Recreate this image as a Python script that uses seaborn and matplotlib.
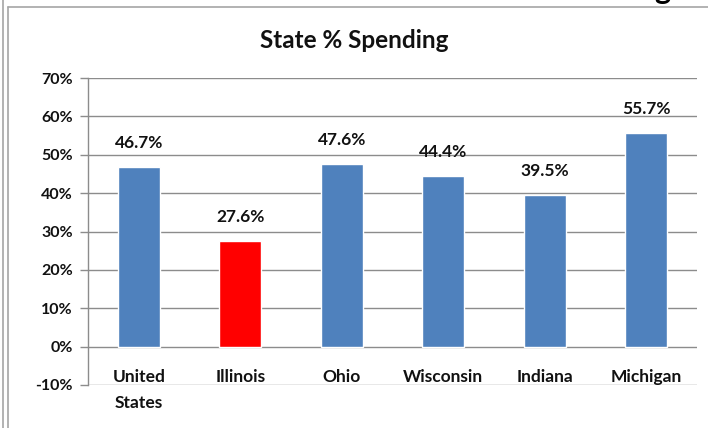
import matplotlib
matplotlib.use("Agg")
import matplotlib.pyplot as plt
from matplotlib.lines import Line2D
import seaborn as sns
import pandas as pd

# Share of spending carried by the state, by state (%)
states = ["United\nStates", "Illinois", "Ohio", "Wisconsin", "Indiana", "Michigan"]
spending_pct = [46.7, 27.6, 47.6, 44.4, 39.5, 55.7]
bar_colors = ["#4F81BD", "#FF0000", "#4F81BD", "#4F81BD", "#4F81BD", "#4F81BD"]
y_ticks = [-10, 0, 10, 20, 30, 40, 50, 60, 70]

sns.set_theme(style="white")
plt.rcParams["font.family"] = ["Lato", "DejaVu Sans"]

W, H = 708, 428
fig = plt.figure(figsize=(W / 100, H / 100), dpi=100)
fig.patch.set_facecolor("white")

# axes box in pixel coordinates: x 88..697, y 78..385 from top
ax = fig.add_axes([88 / W, (H - 385) / H, (697 - 88) / W, (385 - 78) / H])

df = pd.DataFrame({"state": states, "pct": spending_pct})
sns.barplot(data=df, x="state", y="pct", hue="state", palette=bar_colors,
            legend=False, width=0.41, saturation=1, ax=ax, zorder=3)

ax.set_ylim(-10, 70)
ax.set_xlim(-0.5, len(states) - 0.5)
ax.set_yticks(y_ticks)
ax.set_yticklabels([f"{t}%" for t in y_ticks], fontsize=11.5, fontweight="bold",
                   color="#111111")
ax.set_xticks([])
ax.set_xlabel("")
ax.set_ylabel("")

grid_c = "#8C8C8C"
for t in y_ticks:
    ax.axhline(t, color=grid_c, lw=1, zorder=1)
# tick stubs to the left of the value axis
ax.tick_params(axis="y", which="both", left=True, length=6, width=1,
               color=grid_c, pad=5)
for s in ["top", "right", "bottom"]:
    ax.spines[s].set_visible(False)
ax.spines["left"].set_color(grid_c)
ax.spines["left"].set_linewidth(1)

# value labels above each bar
for i, v in enumerate(spending_pct):
    ax.annotate(f"{v}%", (i, v), xytext=(0, 11.5), textcoords="offset points",
                ha="center", va="bottom", fontsize=12.5, fontweight="bold",
                color="#111111")

# category names sit between 0% and -10%; a second line drops below
for i, name in enumerate(states):
    parts = name.split("\n")
    ax.text(i, -9.9, parts[0], ha="center", va="bottom", fontsize=12.5,
            fontweight="bold", color="#111111")
    if len(parts) > 1:
        ax.text(i, -16.9, parts[1], ha="center", va="bottom", fontsize=12.5,
                fontweight="bold", color="#111111", clip_on=False)

fig.text(0.5, 1 - 40 / H, "State % Spending", ha="center", va="center",
         fontsize=17.5, fontweight="bold", color="#111111")

# chart frame lines
frame_c = "#A6A6A6"
fig.add_artist(Line2D([2.5 / W, 2.5 / W], [0, 1], color=frame_c, lw=1.2))
fig.add_artist(Line2D([7.5 / W, 7.5 / W], [0, 1 - 7 / H], color=frame_c, lw=1.2))
fig.add_artist(Line2D([7.5 / W, 1], [1 - 7 / H, 1 - 7 / H], color=frame_c, lw=1.2))

# descender of the slide heading above the chart
fig.text(662 / W, 1 + 1 / H, "g", ha="center", va="baseline", fontsize=22,
         fontweight="bold", color="#000000")

fig.savefig("out.png", dpi=100, facecolor="white")
